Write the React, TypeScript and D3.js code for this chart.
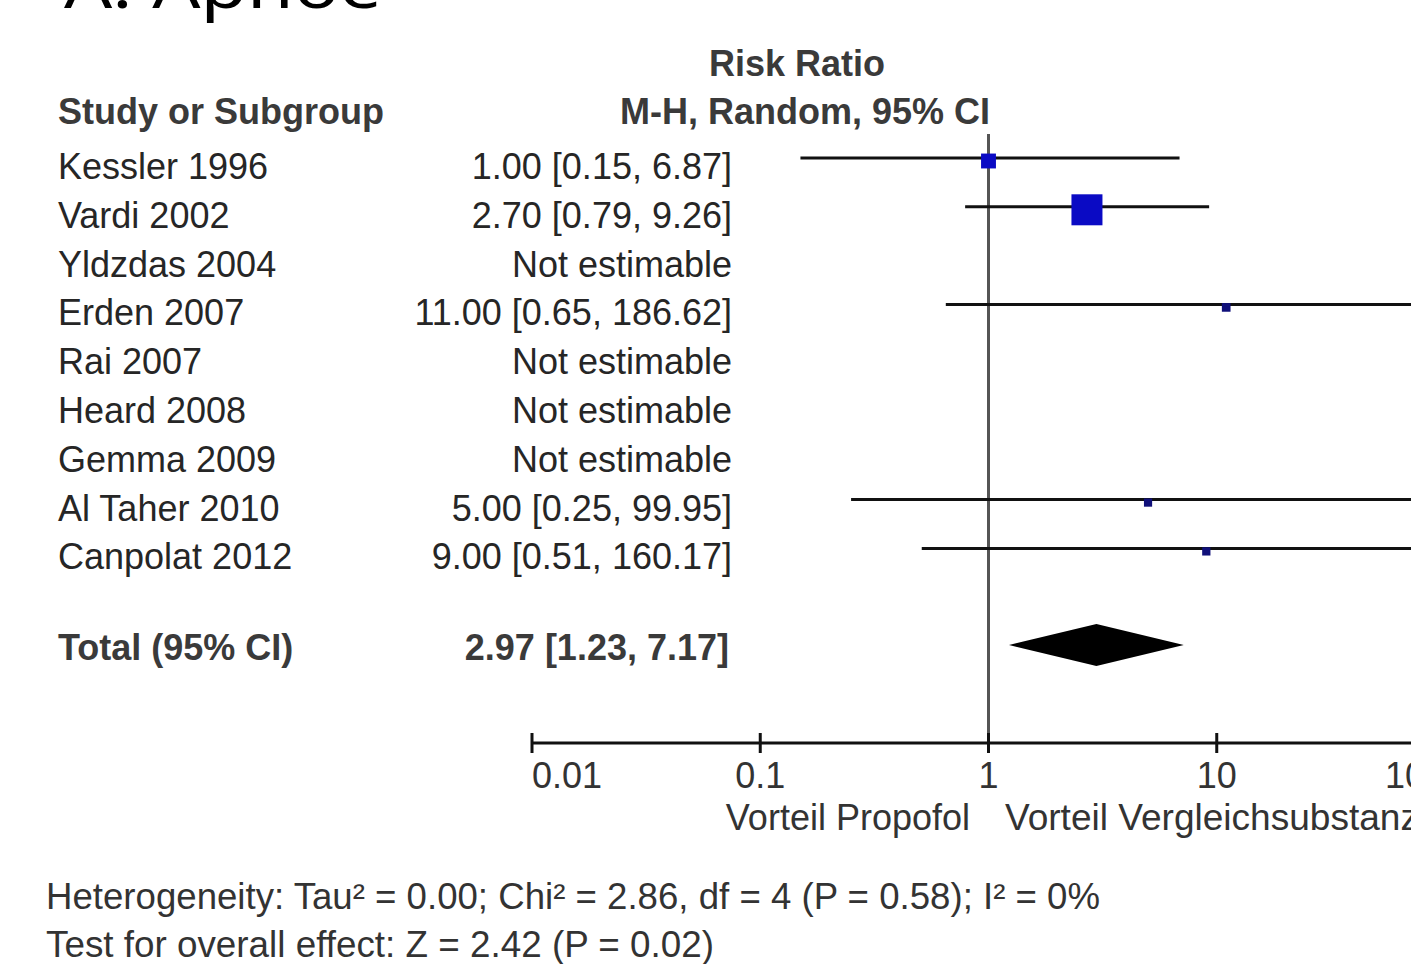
import React, { useEffect, useRef } from 'react';
import * as d3 from 'd3';

// study rows
const studies = ['Kessler 1996', 'Vardi 2002', 'Yldzdas 2004', 'Erden 2007', 'Rai 2007', 'Heard 2008', 'Gemma 2009', 'Al Taher 2010', 'Canpolat 2012'];
const rr = [1.0, 2.7, null, 11.0, null, null, null, 5.0, 9.0];
const lower = [0.15, 0.79, null, 0.65, null, null, null, 0.25, 0.51];
const upper = [6.87, 9.26, null, 186.62, null, null, null, 99.95, 160.17];
const weights = [15.9, 69.0, null, 5.4, null, null, null, 4.8, 4.9];
const ciLabels = ['1.00 [0.15, 6.87]', '2.70 [0.79, 9.26]', 'Not estimable', '11.00 [0.65, 186.62]', 'Not estimable', 'Not estimable', 'Not estimable', '5.00 [0.25, 99.95]', '9.00 [0.51, 160.17]'];

// pooled estimate
const totalRR = 2.97;
const totalLower = 1.23;
const totalUpper = 7.17;
const totalLabel = '2.97 [1.23, 7.17]';

// axis
const tickValues = [0.01, 0.1, 1, 10, 100];
const tickLabels = ['0.01', '0.1', '1', '10', '100'];

const footer = [
  'Heterogeneity: Tau\u00b2 = 0.00; Chi\u00b2 = 2.86, df = 4 (P = 0.58); I\u00b2 = 0%',
  'Test for overall effect: Z = 2.42 (P = 0.02)',
];
const footerWidths = [1054, 668];

const App = () => {
  const ref = useRef(null);

  useEffect(() => {
    const svg = d3.select(ref.current);
    svg.selectAll('*').remove();

    const font = 'Arial, "Liberation Sans", sans-serif';
    const textCol = '#262626';
    const x = d3.scaleLog().domain([0.01, 100]).range([532, 1445]);
    const rowY = d3.scaleLinear().domain([0, 1]).range([179, 227.8]); // baseline of each row
    const axisY = 743;

    // title (cut off at the top)
    svg.append('text')
      .attr('x', 64).attr('y', 8)
      .attr('font-family', '"Noto Sans", sans-serif')
      .attr('font-size', 62)
      .attr('textLength', 318)
      .attr('lengthAdjust', 'spacingAndGlyphs')
      .attr('fill', '#000')
      .text('A. Apnoe');

    const g = svg.append('g').attr('font-family', font).attr('font-size', 36).attr('fill', textCol);

    // headers
    g.append('text').attr('x', 797).attr('y', 76).attr('text-anchor', 'middle')
      .attr('font-weight', 'bold').attr('fill', '#3a3a3a').text('Risk Ratio');
    g.append('text').attr('x', 58).attr('y', 124)
      .attr('font-weight', 'bold').attr('fill', '#3a3a3a').text('Study or Subgroup');
    g.append('text').attr('x', 990).attr('y', 124).attr('text-anchor', 'end')
      .attr('font-weight', 'bold').attr('fill', '#3a3a3a').text('M-H, Random, 95% CI');

    // rows
    studies.forEach((s, i) => {
      const y = rowY(i);
      g.append('text').attr('x', 58).attr('y', y).text(s);
      g.append('text').attr('x', 732).attr('y', y).attr('text-anchor', 'end').text(ciLabels[i]);
    });

    // null line
    svg.append('line')
      .attr('x1', x(1)).attr('x2', x(1))
      .attr('y1', 134).attr('y2', axisY)
      .attr('stroke', '#555').attr('stroke-width', 3);

    // CIs and squares
    const sq = d3.scaleSqrt().domain([0, 69]).range([0, 31]);
    studies.forEach((s, i) => {
      if (rr[i] == null) return;
      const ly = rowY(i) - 21;
      svg.append('line')
        .attr('x1', x(lower[i])).attr('x2', x(upper[i]))
        .attr('y1', ly).attr('y2', ly)
        .attr('stroke', '#111').attr('stroke-width', 3);
      const size = sq(weights[i]);
      svg.append('rect')
        .attr('x', x(rr[i]) - size / 2).attr('y', ly + 3 - size / 2)
        .attr('width', size).attr('height', size)
        .attr('fill', size < 12 ? '#10107a' : '#0a0ac4');
    });

    // total row
    g.append('text').attr('x', 58).attr('y', 660).attr('font-weight', 'bold').attr('fill', '#3a3a3a').text('Total (95% CI)');
    g.append('text').attr('x', 729).attr('y', 660).attr('text-anchor', 'end').attr('font-weight', 'bold').attr('fill', '#3a3a3a').text(totalLabel);
    const dy = 645;
    svg.append('path')
      .attr('d', d3.line()([[x(totalLower), dy], [x(totalRR), dy - 21], [x(totalUpper), dy], [x(totalRR), dy + 21]]) + 'Z')
      .attr('fill', '#000');

    // axis
    svg.append('line')
      .attr('x1', x(0.01)).attr('x2', x(100))
      .attr('y1', axisY).attr('y2', axisY)
      .attr('stroke', '#111').attr('stroke-width', 3);
    tickValues.forEach((t, i) => {
      svg.append('line')
        .attr('x1', x(t)).attr('x2', x(t))
        .attr('y1', axisY - 10).attr('y2', axisY + 10)
        .attr('stroke', '#111').attr('stroke-width', 3);
      const anchor = i === 0 ? 'start' : i === tickValues.length - 1 ? 'end' : 'middle';
      g.append('text').attr('x', x(t)).attr('y', 788)
        .attr('text-anchor', anchor).attr('fill', '#333').text(tickLabels[i]);
    });
    g.append('text').attr('x', 970).attr('y', 830).attr('text-anchor', 'end').attr('fill', '#333').text('Vorteil Propofol');
    g.append('text').attr('x', 1005).attr('y', 830).attr('fill', '#333')
      .attr('textLength', 414).attr('lengthAdjust', 'spacingAndGlyphs').text('Vorteil Vergleichsubstanz');

    // footer
    footer.forEach((f, i) => {
      g.append('text').attr('x', 46).attr('y', 909 + i * 48).attr('fill', '#333')
        .attr('textLength', footerWidths[i]).attr('lengthAdjust', 'spacingAndGlyphs').text(f);
    });
  }, []);

  return (
    <svg ref={ref} width={1411} height={964}
      style={{ position: 'absolute', left: 0, top: 0, background: '#fff' }} />
  );
};

export default App;
